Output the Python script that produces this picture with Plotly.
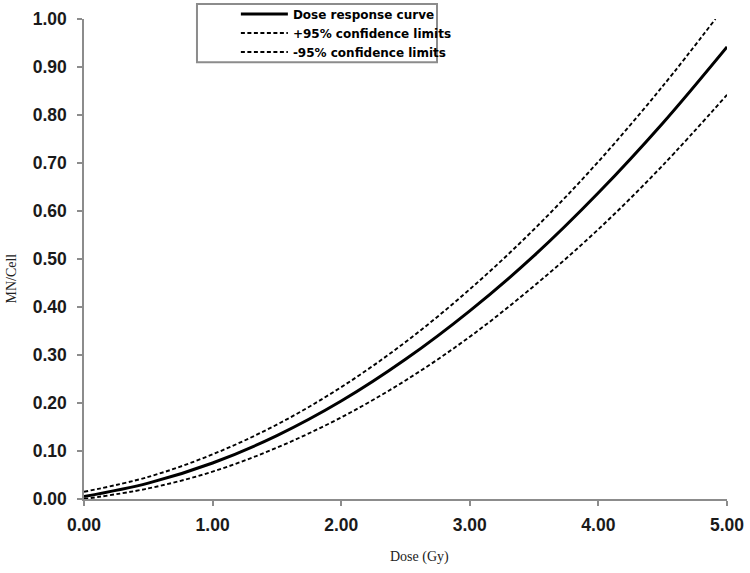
import plotly.graph_objects as go

dose = [0.0, 0.5, 1.0, 1.5, 2.0, 2.5, 3.0, 3.5, 4.0, 4.5, 5.0]
response = [0.005, 0.033, 0.075, 0.132, 0.204, 0.291, 0.392, 0.507, 0.638, 0.783, 0.942]

dose_upper = [0.0, 0.5, 1.0, 1.5, 2.0, 2.5, 3.0, 3.5, 4.0, 4.5, 4.91]
upper95 = [0.015, 0.046, 0.093, 0.155, 0.233, 0.327, 0.437, 0.562, 0.703, 0.860, 1.0]

lower95 = [0.0, 0.022, 0.057, 0.107, 0.170, 0.247, 0.338, 0.444, 0.562, 0.695, 0.842]

x_ticks = [0, 1, 2, 3, 4, 5]
x_tick_labels = ["0.00", "1.00", "2.00", "3.00", "4.00", "5.00"]
y_ticks = [0.0, 0.1, 0.2, 0.3, 0.4, 0.5, 0.6, 0.7, 0.8, 0.9, 1.0]
y_tick_labels = ["0.00", "0.10", "0.20", "0.30", "0.40", "0.50", "0.60", "0.70", "0.80", "0.90", "1.00"]

fig = go.Figure()
fig.add_trace(go.Scatter(x=dose, y=response, mode="lines", name="Dose response curve",
                         line=dict(color="black", width=3, shape="spline")))
fig.add_trace(go.Scatter(x=dose_upper, y=upper95, mode="lines", name="+95% confidence limits",
                         line=dict(color="black", width=1.9, dash="4px,2.5px", shape="spline")))
fig.add_trace(go.Scatter(x=dose, y=lower95, mode="lines", name="-95% confidence limits",
                         line=dict(color="black", width=1.9, dash="4px,2.5px", shape="spline")))

axis_common = dict(showgrid=False, zeroline=False, showline=True, linecolor="#8c8c8c", linewidth=1.5,
                   ticks="outside", tickcolor="#8c8c8c", ticklen=5, tickwidth=1.5, automargin=False,
                   tickfont=dict(family="Liberation Sans", size=17.5, color="#1a1a1a", weight="bold"))

fig.update_xaxes(range=[0, 5], tickvals=x_ticks, ticktext=x_tick_labels, ticklabelstandoff=4, **axis_common)
fig.update_yaxes(range=[0, 1], tickvals=y_ticks, ticktext=y_tick_labels, ticklabelstandoff=7, **axis_common)

fig.add_shape(type="rect", xref="paper", yref="paper", x0=0.1757, x1=0.549, y0=0.910, y1=1.031,
              line=dict(color="#8c8c8c", width=2), fillcolor="white", layer="below")

fig.add_annotation(text="Dose (Gy)", xref="paper", yref="paper", x=0.521, y=-0.121,
                   xanchor="center", yanchor="middle", showarrow=False,
                   font=dict(family="Liberation Serif", size=14, color="#222"))
fig.add_annotation(text="MN/Cell", xref="paper", yref="paper", x=-0.113, y=0.46,
                   xanchor="center", yanchor="middle", showarrow=False, textangle=-90,
                   font=dict(family="Liberation Serif", size=14, color="#222"))

fig.update_layout(
    width=750, height=573,
    margin=dict(l=84, r=23, t=19, b=74, autoexpand=False),
    plot_bgcolor="white", paper_bgcolor="white",
    showlegend=True,
    legend=dict(x=0.2362, y=1.0405, xanchor="left", yanchor="top", bgcolor="rgba(0,0,0,0)",
                borderwidth=0, tracegroupgap=0, itemwidth=47,
                font=dict(family="DejaVu Sans", size=12, color="black", weight="bold")),
)

fig.write_html("out.html", post_script="document.body.style.margin='0';",
               config={"displayModeBar": False})
